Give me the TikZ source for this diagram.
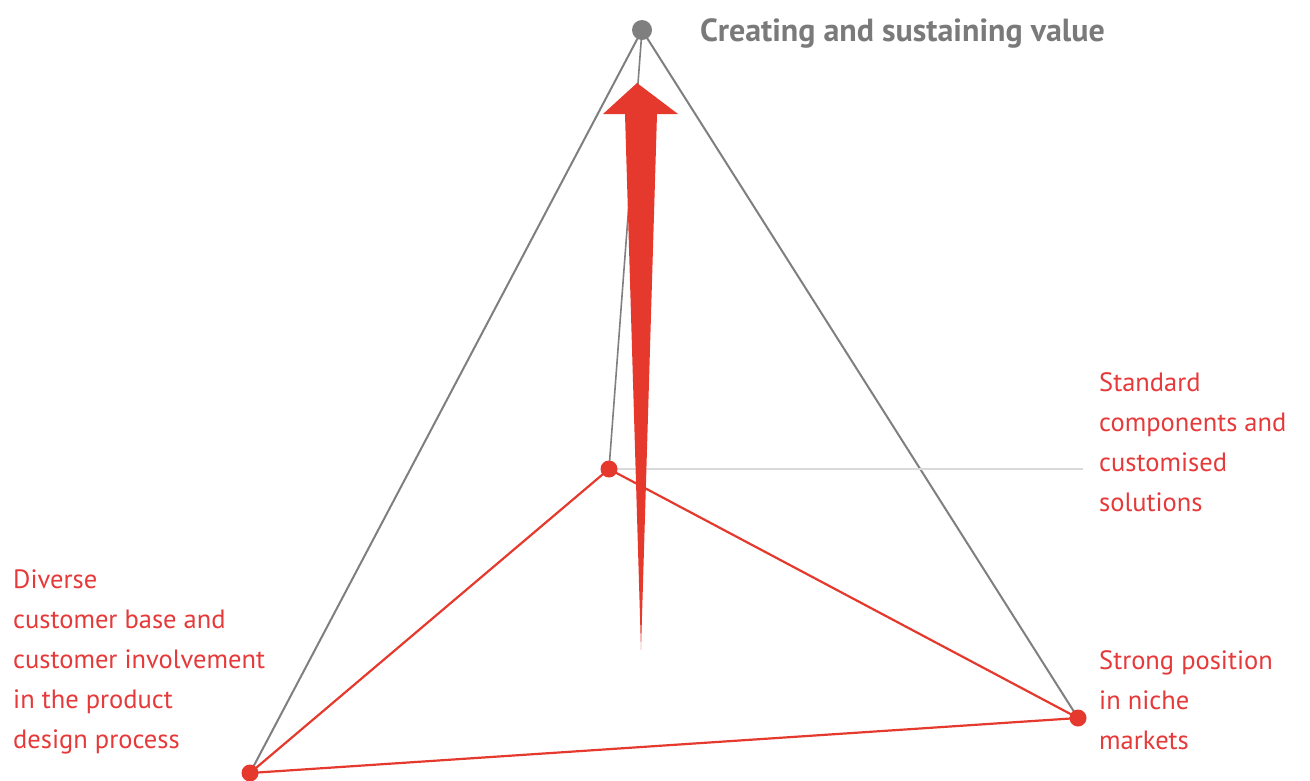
\documentclass[tikz,border=0pt]{standalone}
\usepackage{fontspec}
\setmainfont{PT Sans}
\definecolor{arrred}{HTML}{E5392D}
\definecolor{txtred}{HTML}{E5393A}
\definecolor{linegray}{HTML}{7F7F7F}
\definecolor{titlegray}{HTML}{7A7A7A}
\definecolor{faintgray}{HTML}{DADADA}
\begin{document}
\begin{tikzpicture}[x=1pt,y=-1pt,
  graydot/.style={circle,fill=linegray,inner sep=0pt,minimum size=20pt},
  reddot/.style={circle,fill=arrred,inner sep=0pt,minimum size=17pt},
  grayline/.style={draw=linegray,line width=2pt},
  redline/.style={draw=arrred,line width=2.2pt},
  faintline/.style={draw=faintgray,line width=1.4pt},
  lbl/.style={text=txtred,anchor=base west,inner sep=0pt,align=left,
    font=\fontsize{26.5}{40}\selectfont},
  ttl/.style={text=titlegray,anchor=base west,inner sep=0pt,
    font=\fontsize{32}{36}\selectfont\bfseries}]
\useasboundingbox (0,0) rectangle (1310,780);
\coordinate (A) at (642,30);
\coordinate (M) at (609,469);
\coordinate (L) at (250,773);
\coordinate (R) at (1078,718);
\coordinate (F) at (1083,469);
% gray edges
\draw[grayline] (A) -- (L);
\draw[grayline] (A) -- (R);
\draw[grayline,line width=1.6pt] (A) -- (M);
\draw[faintline] (M) -- (F);
% red edges
\draw[redline] (M) -- (L);
\draw[redline] (M) -- (R);
\draw[redline] (L) -- (R);
% arrow
\fill[arrred] (641,650) -- (625,114) -- (603,114) -- (637,83) -- (678,114) -- (657,114) -- cycle;
% dots
\node[graydot] (a) at (A) {};
\node[reddot] (m) at (M) {};
\node[reddot] (l) at (L) {};
\node[reddot] (r) at (R) {};
% labels
\node[ttl] (t) at (700,41) {Creating and sustaining value};
\node[lbl] (s) at (1099,511) {Standard\\components and\\customised\\solutions};
\node[lbl] (n) at (1099,749) {Strong position\\in niche\\markets};
\node[lbl] (d) at (13,748) {Diverse\\customer base and\\customer involvement\\in the product\\design process};
\end{tikzpicture}
\end{document}
